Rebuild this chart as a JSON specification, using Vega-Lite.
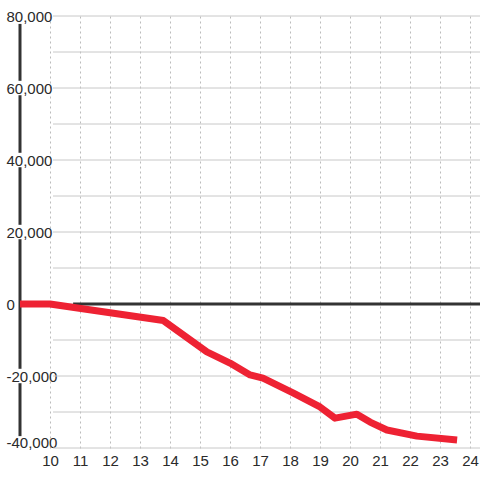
{
  "$schema": "https://vega.github.io/schema/vega-lite/v6.json",
  "width": 460,
  "height": 432,
  "autosize": {"type": "none"},
  "padding": {"left": 20, "top": 16, "right": 0, "bottom": 32},
  "background": "#ffffff",
  "config": {
    "view": {"stroke": null},
    "font": "Liberation Sans"
  },
  "datasets": {
    "series": [
      {"x": 9, "y": 0},
      {"x": 10, "y": 0},
      {"x": 13.78, "y": -4600},
      {"x": 15.23, "y": -13300},
      {"x": 16.0, "y": -16400},
      {"x": 16.67, "y": -19700},
      {"x": 17.1, "y": -20600},
      {"x": 18.1, "y": -24700},
      {"x": 19.0, "y": -28600},
      {"x": 19.5, "y": -31700},
      {"x": 20.23, "y": -30600},
      {"x": 20.67, "y": -32800},
      {"x": 21.23, "y": -35000},
      {"x": 22.23, "y": -36700},
      {"x": 23.57, "y": -37800}
    ],
    "grid": [
      {"y": 80000}, {"y": 70000}, {"y": 60000}, {"y": 50000}, {"y": 40000},
      {"y": 30000}, {"y": 20000}, {"y": 10000}, {"y": 0}, {"y": -10000},
      {"y": -20000}, {"y": -30000}, {"y": -40000}
    ],
    "axisline": [
      {"y": 62000, "y2": 77800},
      {"y": 42000, "y2": 58000},
      {"y": 22000, "y2": 38000},
      {"y": -18000, "y2": 18000},
      {"y": -36700, "y2": -22000}
    ],
    "zero": [{"y": 0}]
  },
  "encoding": {
    "y": {
      "field": "y", "type": "quantitative",
      "scale": {"domain": [-40000, 80000], "nice": false, "zero": false},
      "axis": {
        "values": [80000, 60000, 40000, 20000, 0, -20000, -40000],
        "format": ",d",
        "labelExpr": "replace(datum.label, '\u2212', '-')",
        "domain": false, "ticks": false, "grid": false,
        "labelAlign": "left", "labelBaseline": "middle",
        "labelOffset": {"condition": {"test": "datum.value == -40000", "value": -6}, "value": 0},
        "labelPadding": 14, "labelFontSize": 15, "labelColor": "#2a2a2a",
        "labelOverlap": false,
        "title": null
      }
    }
  },
  "layer": [
    {
      "data": {"name": "grid"},
      "mark": {"type": "rule", "color": "#c8c8c8", "strokeWidth": 1},
      "encoding": {
        "x": {
          "datum": 10.1, "type": "quantitative",
          "scale": {"domain": [9, 24.3333], "nice": false, "zero": false},
          "axis": {
            "values": [10, 11, 12, 13, 14, 15, 16, 17, 18, 19, 20, 21, 22, 23, 24],
            "domain": false, "ticks": false,
            "grid": true, "gridColor": "#bbbbbb", "gridDash": [2, 3], "gridWidth": 1,
            "labelPadding": 5, "labelFontSize": 15, "labelColor": "#2a2a2a",
            "labelOverlap": false,
            "title": null
          }
        },
        "x2": {"datum": 24.3333}
      }
    },
    {
      "data": {"name": "axisline"},
      "mark": {"type": "rule", "color": "#333333", "strokeWidth": 3},
      "encoding": {
        "x": {
          "datum": 9, "type": "quantitative",
          "axis": {
            "values": [10, 11, 12, 13, 14, 15, 16, 17, 18, 19, 20, 21, 22, 23, 24],
            "domain": false, "ticks": false,
            "grid": true, "gridColor": "#bbbbbb", "gridDash": [2, 3], "gridWidth": 1,
            "labelPadding": 5, "labelFontSize": 15, "labelColor": "#2a2a2a",
            "labelOverlap": false,
            "title": null
          }
        },
        "y2": {"field": "y2"}
      }
    },
    {
      "data": {"name": "zero"},
      "mark": {"type": "rule", "color": "#333333", "strokeWidth": 3},
      "encoding": {
        "x": {
          "datum": 10.77, "type": "quantitative",
          "axis": {
            "values": [10, 11, 12, 13, 14, 15, 16, 17, 18, 19, 20, 21, 22, 23, 24],
            "domain": false, "ticks": false,
            "grid": true, "gridColor": "#bbbbbb", "gridDash": [2, 3], "gridWidth": 1,
            "labelPadding": 5, "labelFontSize": 15, "labelColor": "#2a2a2a",
            "labelOverlap": false,
            "title": null
          }
        },
        "x2": {"datum": 24.3333}
      }
    },
    {
      "data": {"name": "series"},
      "mark": {"type": "line", "color": "#ee2233", "strokeWidth": 7, "strokeJoin": "round", "strokeCap": "butt"},
      "encoding": {
        "x": {
          "field": "x", "type": "quantitative",
          "axis": {
            "values": [10, 11, 12, 13, 14, 15, 16, 17, 18, 19, 20, 21, 22, 23, 24],
            "domain": false, "ticks": false,
            "grid": true, "gridColor": "#bbbbbb", "gridDash": [2, 3], "gridWidth": 1,
            "labelPadding": 5, "labelFontSize": 15, "labelColor": "#2a2a2a",
            "labelOverlap": false,
            "title": null
          }
        }
      }
    }
  ]
}
